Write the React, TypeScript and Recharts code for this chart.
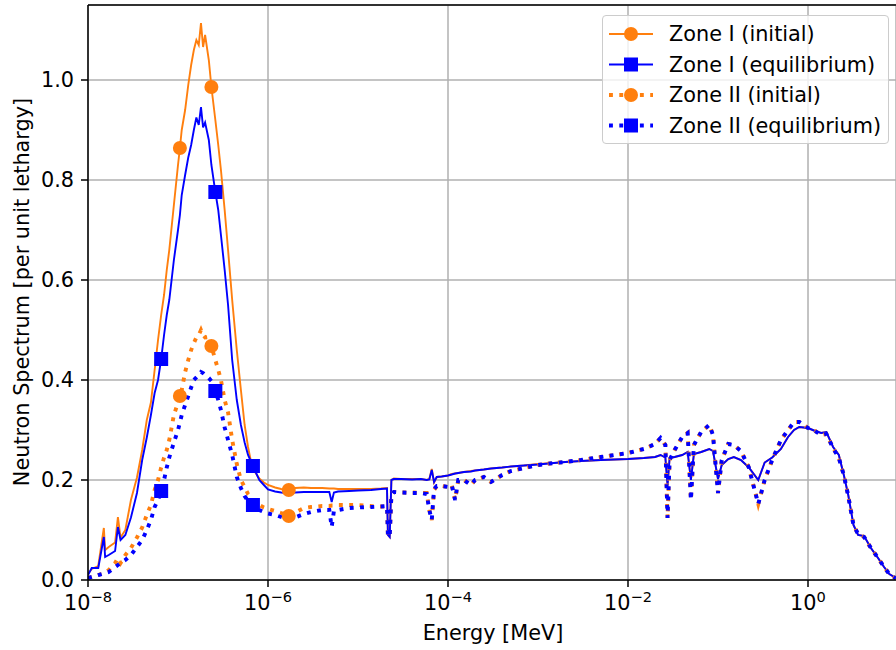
import React from 'react';
import { LineChart, Line, XAxis, YAxis, CartesianGrid, ReferenceLine } from 'recharts';

// energy grid [MeV], shared by the four spectra
const energy = [
  1.0e-8, 1.1e-8, 1.3e-8, 1.5e-8, 1.55e-8, 1.7e-8, 2.0e-8, 2.15e-8, 2.3e-8, 2.6e-8,
  3.0e-8, 3.5e-8, 4.0e-8, 4.5e-8, 5.0e-8, 5.5e-8, 6.0e-8, 6.5e-8, 7.0e-8, 7.5e-8,
  8.0e-8, 9.0e-8, 1.0e-7, 1.05e-7, 1.1e-7, 1.2e-7, 1.3e-7, 1.4e-7, 1.5e-7, 1.6e-7,
  1.7e-7, 1.8e-7, 1.9e-7, 2.0e-7, 2.2e-7, 2.35e-7, 2.6e-7, 2.8e-7, 3.0e-7, 3.3e-7,
  3.6e-7, 4.0e-7, 4.5e-7, 5.0e-7, 5.5e-7, 6.0e-7, 6.5e-7, 6.8e-7, 8.0e-7, 9.0e-7,
  1.0e-6, 1.2e-6, 1.4e-6, 1.6e-6, 1.7e-6, 2.0e-6, 2.5e-6, 3.0e-6, 4.0e-6, 4.8e-6,
  5.1e-6, 5.4e-6, 6.0e-6, 8.0e-6, 1.0e-5, 1.4e-5, 1.8e-5, 2.1e-5, 2.15e-5, 2.25e-5,
  2.35e-5, 2.5e-5, 3.0e-5, 4.0e-5, 5.0e-5, 5.8e-5, 6.2e-5, 6.6e-5, 7.0e-5, 7.5e-5,
  8.5e-5, 1.0e-4, 1.1e-4, 1.2e-4, 1.3e-4, 1.5e-4, 1.8e-4, 2.0e-4, 2.5e-4, 3.0e-4,
  4.0e-4, 5.0e-4, 7.0e-4, 1.0e-3, 1.5e-3, 2.0e-3, 3.0e-3, 5.0e-3, 1.0e-2, 1.5e-2,
  2.0e-2, 2.3e-2, 2.6e-2, 2.75e-2, 2.9e-2, 3.3e-2, 4.0e-2, 4.6e-2, 5.0e-2, 5.4e-2,
  6.5e-2, 8.0e-2, 8.8e-2, 1.0e-1, 1.1e-1, 1.3e-1, 1.5e-1, 1.8e-1, 2.2e-1, 2.8e-1,
  3.3e-1, 4.0e-1, 5.0e-1, 6.0e-1, 7.0e-1, 8.0e-1, 1.0, 1.2, 1.4, 1.6,
  1.9, 2.2, 2.5, 2.8, 3.2, 3.6, 4.2, 5.0, 6.0, 7.0,
  8.0, 9.5,
];

const zone1Initial = [
  0.012, 0.022, 0.028, 0.104, 0.06, 0.066, 0.075, 0.126, 0.085, 0.1,
  0.16, 0.205, 0.26, 0.32, 0.355, 0.42, 0.48, 0.53, 0.57, 0.62,
  0.66, 0.75, 0.83, 0.864, 0.9, 0.94, 0.99, 1.03, 1.06, 1.08,
  1.07, 1.114, 1.066, 1.09, 1.04, 0.986, 0.92, 0.87, 0.82, 0.74,
  0.66, 0.56, 0.46, 0.38, 0.31, 0.266, 0.235, 0.222, 0.203, 0.195,
  0.19, 0.185, 0.182, 0.181, 0.18, 0.184, 0.185, 0.184, 0.184, 0.183,
  0.183, 0.183, 0.182, 0.182, 0.182, 0.182, 0.183, 0.184, 0.09, 0.086,
  0.2, 0.203, 0.202, 0.202, 0.202, 0.2, 0.202, 0.222, 0.195, 0.206,
  0.207, 0.209, 0.212, 0.213, 0.214, 0.216, 0.218, 0.219, 0.221, 0.223,
  0.225, 0.227, 0.229, 0.232, 0.234, 0.236, 0.238, 0.24, 0.242, 0.244,
  0.246, 0.25, 0.245, 0.19, 0.244, 0.246, 0.25, 0.256, 0.2, 0.252,
  0.256, 0.262, 0.258, 0.202, 0.23, 0.242, 0.246, 0.24, 0.225, 0.2,
  0.235, 0.245, 0.262, 0.286, 0.3, 0.306, 0.304, 0.298, 0.294, 0.296,
  0.266, 0.25, 0.21, 0.17, 0.11, 0.09, 0.088, 0.064, 0.044, 0.026,
  0.012, 0.004,
];

const zone1Equilibrium = [
  0.01, 0.024, 0.024, 0.086, 0.046, 0.05, 0.058, 0.106, 0.08, 0.09,
  0.125, 0.174, 0.24, 0.285, 0.33, 0.374, 0.4, 0.442, 0.49, 0.53,
  0.56, 0.64, 0.7, 0.73, 0.77, 0.81, 0.845, 0.87, 0.9, 0.925,
  0.91, 0.946, 0.905, 0.915, 0.88, 0.83, 0.776, 0.74, 0.69, 0.62,
  0.55, 0.44, 0.36, 0.31, 0.275, 0.25, 0.236, 0.228, 0.2, 0.19,
  0.181, 0.177, 0.175, 0.174, 0.174, 0.175, 0.176, 0.176, 0.176, 0.176,
  0.156, 0.175, 0.177, 0.178, 0.179, 0.18, 0.182, 0.183, 0.09, 0.086,
  0.2, 0.202, 0.202, 0.201, 0.202, 0.2, 0.201, 0.22, 0.196, 0.206,
  0.207, 0.209, 0.211, 0.213, 0.214, 0.216, 0.217, 0.219, 0.221, 0.223,
  0.225, 0.227, 0.229, 0.231, 0.234, 0.236, 0.238, 0.24, 0.242, 0.244,
  0.246, 0.25, 0.245, 0.19, 0.244, 0.246, 0.25, 0.256, 0.2, 0.252,
  0.256, 0.262, 0.258, 0.202, 0.23, 0.242, 0.246, 0.24, 0.225, 0.2,
  0.235, 0.245, 0.262, 0.286, 0.3, 0.306, 0.304, 0.298, 0.294, 0.296,
  0.266, 0.25, 0.21, 0.17, 0.11, 0.09, 0.088, 0.064, 0.044, 0.026,
  0.012, 0.004,
];

const zone2Initial = [
  0.004, 0.006, 0.01, 0.014, 0.015, 0.02, 0.034, 0.044, 0.034, 0.05,
  0.064, 0.085, 0.105, 0.13, 0.15, 0.18, 0.2, 0.225, 0.245, 0.26,
  0.28, 0.33, 0.355, 0.368, 0.38, 0.416, 0.44, 0.46, 0.474, 0.485,
  0.49, 0.5, 0.49, 0.485, 0.486, 0.468, 0.44, 0.42, 0.4, 0.36,
  0.335, 0.28, 0.232, 0.2, 0.186, 0.172, 0.165, 0.16, 0.15, 0.145,
  0.142, 0.138, 0.134, 0.131, 0.128, 0.135, 0.144, 0.146, 0.148, 0.148,
  0.149, 0.149, 0.15, 0.15, 0.15, 0.148, 0.147, 0.147, 0.09, 0.086,
  0.17, 0.176, 0.175, 0.175, 0.174, 0.174, 0.14, 0.12, 0.18, 0.188,
  0.188, 0.186, 0.19, 0.16, 0.2, 0.2, 0.19, 0.2, 0.206, 0.196,
  0.21, 0.218, 0.224, 0.23, 0.234, 0.236, 0.24, 0.246, 0.254, 0.262,
  0.272, 0.284, 0.27, 0.124, 0.24, 0.26, 0.286, 0.294, 0.16, 0.27,
  0.296, 0.31, 0.29, 0.174, 0.24, 0.272, 0.27, 0.258, 0.225, 0.152,
  0.2, 0.24, 0.28, 0.3, 0.316, 0.316, 0.304, 0.298, 0.29, 0.292,
  0.264, 0.244, 0.21, 0.168, 0.11, 0.092, 0.086, 0.064, 0.044, 0.026,
  0.012, 0.003,
];

const zone2Equilibrium = [
  0.004, 0.006, 0.01, 0.013, 0.014, 0.016, 0.026, 0.03, 0.034, 0.04,
  0.05, 0.066, 0.08, 0.1, 0.12, 0.146, 0.16, 0.178, 0.2, 0.225,
  0.245, 0.275, 0.3, 0.315, 0.33, 0.35, 0.368, 0.385, 0.4, 0.405,
  0.41, 0.416, 0.414, 0.41, 0.404, 0.398, 0.378, 0.36, 0.34, 0.305,
  0.28, 0.25, 0.206, 0.184, 0.168, 0.158, 0.15, 0.15, 0.14, 0.136,
  0.133, 0.13, 0.126, 0.122, 0.12, 0.125, 0.132, 0.136, 0.14, 0.14,
  0.106, 0.138, 0.14, 0.144, 0.145, 0.146, 0.147, 0.148, 0.09, 0.086,
  0.17, 0.176, 0.175, 0.174, 0.174, 0.172, 0.14, 0.12, 0.182, 0.188,
  0.188, 0.186, 0.19, 0.16, 0.2, 0.2, 0.19, 0.2, 0.206, 0.196,
  0.21, 0.218, 0.224, 0.23, 0.234, 0.236, 0.24, 0.246, 0.254, 0.262,
  0.272, 0.284, 0.27, 0.124, 0.24, 0.26, 0.286, 0.294, 0.16, 0.27,
  0.296, 0.31, 0.29, 0.174, 0.24, 0.272, 0.27, 0.258, 0.225, 0.152,
  0.2, 0.24, 0.28, 0.3, 0.316, 0.316, 0.304, 0.298, 0.29, 0.292,
  0.264, 0.244, 0.21, 0.168, 0.11, 0.092, 0.086, 0.064, 0.044, 0.026,
  0.012, 0.003,
];

// energies where markers are drawn
const circleMarks = [1.05e-7, 2.35e-7, 1.7e-6];
const squareMarks = [6.5e-8, 2.6e-7, 6.8e-7];

const xTicks = [1e-8, 1e-6, 1e-4, 1e-2, 1];
const yTicks = [0, 0.2, 0.4, 0.6, 0.8, 1.0];

const ORANGE = '#ff7f0e';
const BLUE = '#0000ff';
const FONT = 'DejaVu Sans, sans-serif';
const FS = 20.8;

const data = energy.map((e, i) => ({
  e,
  z1i: zone1Initial[i],
  z1e: zone1Equilibrium[i],
  z2i: zone2Initial[i],
  z2e: zone2Equilibrium[i],
}));

const series = [
  { key: 'z1i', name: 'Zone I (initial)', color: ORANGE, marker: 'circle', dotted: false },
  { key: 'z1e', name: 'Zone I (equilibrium)', color: BLUE, marker: 'square', dotted: false },
  { key: 'z2i', name: 'Zone II (initial)', color: ORANGE, marker: 'circle', dotted: true },
  { key: 'z2e', name: 'Zone II (equilibrium)', color: BLUE, marker: 'square', dotted: true },
];

const Marker = ({ shape, cx, cy, color }: any) =>
  shape === 'circle' ? (
    <circle cx={cx} cy={cy} r={7} fill={color} />
  ) : (
    <rect x={cx - 7} y={cy - 7} width={14} height={14} fill={color} />
  );

const makeDot = (shape: string, color: string) => (props: any) => {
  const { cx, cy, index, payload } = props;
  const marks = shape === 'circle' ? circleMarks : squareMarks;
  if (!payload || !marks.includes(payload.e)) return <g key={`n${index}`} />;
  return (
    <g key={`m${index}`}>
      <Marker shape={shape} cx={cx} cy={cy} color={color} />
    </g>
  );
};

const XTick = ({ x, y, payload }: any) => {
  const exp = Math.round(Math.log10(payload.value));
  const sup = exp < 0 ? `\u2212${-exp}` : `${exp}`;
  return (
    <text x={x} y={y + 20} textAnchor="middle" fill="#000" fontFamily={FONT} fontSize={FS}>
      <tspan>10</tspan>
      <tspan dy={-8} fontSize={14.6}>{sup}</tspan>
    </text>
  );
};

const LegendBox = () => (
  <div
    style={{
      position: 'absolute',
      left: 602,
      top: 15,
      width: 285,
      height: 127,
      border: '1px solid #cccccc',
      borderRadius: 4,
      background: 'rgba(255,255,255,0.8)',
    }}
  >
    <svg width={285} height={127}>
      {series.map((s, i) => {
        const cy = 18 + i * 30.5;
        return (
          <g key={s.key}>
            <line
              x1={6}
              x2={50}
              y1={cy}
              y2={cy}
              stroke={s.color}
              strokeWidth={s.dotted ? 3.9 : 1.9}
              strokeDasharray={s.dotted ? '3.9 6.4' : undefined}
            />
            <Marker shape={s.marker} cx={28} cy={cy} color={s.color} />
            <text x={66} y={cy} dominantBaseline="central" fontFamily={FONT} fontSize={FS} fill="#000">
              {s.name}
            </text>
          </g>
        );
      })}
    </svg>
  </div>
);

const App = () => {
  return (
    <div style={{ position: 'absolute', left: 0, top: 0, width: 896, height: 650, background: '#fff' }}>
      <LineChart width={896} height={650} data={data} margin={{ top: 5, right: 0, left: 0, bottom: 0 }}>
        <CartesianGrid stroke="#b0b0b0" strokeWidth={1.5} />
        <XAxis
          dataKey="e"
          type="number"
          scale="log"
          domain={[1e-8, 9.5]}
          allowDataOverflow
          ticks={xTicks}
          interval={0}
          height={70}
          tick={<XTick />}
          tickSize={7}
          tickMargin={3}
          tickLine={{ stroke: '#000', strokeWidth: 1.5 }}
          axisLine={{ stroke: '#000', strokeWidth: 1.5 }}
          label={{
            content: () => (
              <text x={493} y={640} textAnchor="middle" fontFamily={FONT} fontSize={FS} fill="#000">
                Energy [MeV]
              </text>
            ),
          }}
        />
        <YAxis
          type="number"
          domain={[0, 1.15]}
          ticks={yTicks}
          interval={0}
          width={88}
          tickFormatter={(v: number) => v.toFixed(1)}
          tick={{ fill: '#000', fontSize: FS, fontFamily: FONT }}
          tickSize={7}
          tickMargin={7}
          tickLine={{ stroke: '#000', strokeWidth: 1.5 }}
          axisLine={{ stroke: '#000', strokeWidth: 1.5 }}
          label={{
            content: () => (
              <text
                x={29}
                y={292}
                transform="rotate(-90 29 292)"
                textAnchor="middle"
                fontFamily={FONT}
                fontSize={FS}
                fill="#000"
              >
                Neutron Spectrum [per unit lethargy]
              </text>
            ),
          }}
        />
        <ReferenceLine y={1.15} stroke="#000" strokeWidth={1.5} />
        {series.map((s) => (
          <Line
            key={s.key}
            dataKey={s.key}
            name={s.name}
            type="linear"
            stroke={s.color}
            strokeWidth={s.dotted ? 3.9 : 1.9}
            strokeDasharray={s.dotted ? '3.9 6.4' : undefined}
            dot={makeDot(s.marker, s.color)}
            activeDot={false}
            isAnimationActive={false}
          />
        ))}
      </LineChart>
      <LegendBox />
    </div>
  );
};

export default App;
